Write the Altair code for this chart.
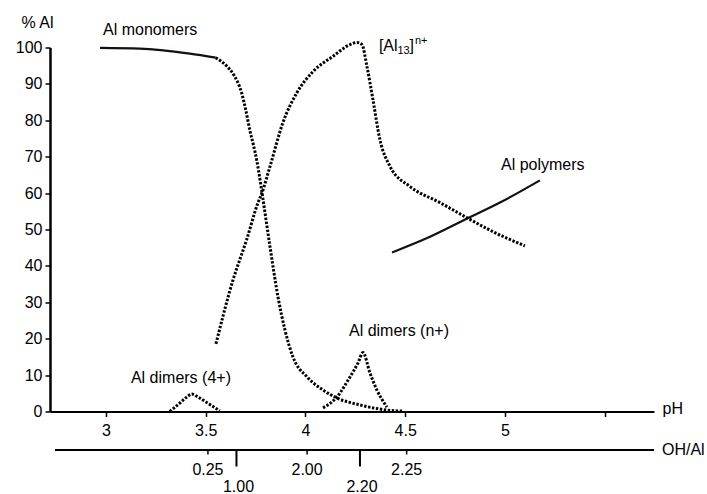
import altair as alt
import pandas as pd

# --- species distribution curves (pH, % Al) ---
mono_solid_ph = [2.97, 3.17, 3.42, 3.55]
mono_solid_pct = [99.9, 99.7, 98.3, 97.2]

mono_ph = [3.55, 3.605, 3.64, 3.68, 3.70, 3.722, 3.74, 3.757, 3.782, 3.822, 3.862, 3.897,
           3.937, 4.008, 4.088, 4.158, 4.273, 4.408, 4.489]
mono_pct = [97.2, 94.9, 92.5, 87.5, 83.0, 77.0, 73.0, 68.6, 60.1, 45.3, 31.5, 22.4,
            15.0, 9.5, 5.9, 3.7, 1.8, 0.4, 0.1]

al13_ph = [3.551, 3.637, 3.705, 3.762, 3.782, 3.822, 3.887, 3.957, 4.038, 4.138,
           4.223, 4.258, 4.283, 4.308, 4.338, 4.373, 4.424, 4.524, 4.674, 4.81,
           4.94, 5.10]
al13_pct = [18.6, 36.2, 47.2, 57.4, 60.1, 67.3, 79.4, 87.6, 93.4, 97.6,
            100.8, 101.4, 100.8, 94.8, 85.7, 74.7, 67.3, 61.8, 57.4, 53.2,
            49.4, 45.5]

poly_ph = [4.434, 4.624, 4.81, 4.975, 5.175]
poly_pct = [43.7, 48.0, 53.0, 57.4, 63.5]

dim4_ph = [3.32, 3.37, 3.406, 3.43, 3.46, 3.51, 3.57]
dim4_pct = [0.0, 2.3, 4.0, 4.8, 4.0, 2.3, 0.2]

dimn_ph = [4.088, 4.158, 4.223, 4.263, 4.288, 4.323, 4.358, 4.408]
dimn_pct = [1.0, 4.0, 9.5, 13.3, 16.2, 10.6, 5.9, 1.2]

# --- axis ticks ---
ph_ticks = [3, 3.5, 4, 4.5, 5, 5.5]
pct_ticks = [0, 10, 20, 30, 40, 50, 60, 70, 80, 90, 100]

# OH/Al ratio scale, placed at the pH where each ratio is reached
ohal_labels = ["0.25", "1.00", "2.00", "2.20", "2.25"]
ohal_ph = [3.511, 3.654, 4.008, 4.273, 4.507]
ohal_major = [False, True, False, True, False]

# --- curve labels ---
label_text = ["Al monomers", "Al polymers", "Al dimers (n+)", "Al dimers (4+)"]
label_ph = [2.985, 4.98, 4.218, 3.125]
label_pct = [104.8, 67.7, 22.0, 9.1]
al13_label_ph = [4.368]
al13_label_pct = [100.3]

FONT = "Liberation Sans"
W, H = 604, 364
PH_DOMAIN = [2.7193, 5.7469]


def series(name, style, xs, ys):
    return pd.DataFrame({"series": name, "style": style, "pH": xs, "pct": ys})


curves = pd.concat([
    series("monomers_a", "solid", mono_solid_ph, mono_solid_pct),
    series("monomers_b", "dotted", mono_ph, mono_pct),
    series("al13", "dotted", al13_ph, al13_pct),
    series("polymers", "solid", poly_ph, poly_pct),
    series("dimers4", "dotted", dim4_ph, dim4_pct),
    series("dimersn", "dotted", dimn_ph, dimn_pct),
], ignore_index=True)

x_scale = alt.Scale(domain=PH_DOMAIN, nice=False, zero=False)
y_scale = alt.Scale(domain=[0, 100], nice=False)

x_axis = alt.Axis(values=ph_ticks, title="pH", format="~g",
                  labelExpr="datum.value == 5.5 ? '' : datum.label",
                  tickSize=5, tickWidth=1.5, domainWidth=2, domainColor="black", tickColor="black",
                  labelFont=FONT, labelFontSize=16, labelColor="black", labelPadding=6,
                  labelFlush=False, labelOverlap=False, grid=False,
                  titleFont=FONT, titleFontSize=16, titleFontWeight="normal", titleColor="black",
                  titleAngle=0, titleAlign="left", titleBaseline="middle",
                  titleX=W + 8, titleY=-3)
y_axis = alt.Axis(values=pct_ticks, title="% Al",
                  tickSize=5, tickWidth=1.5, domainWidth=2.5, domainColor="black", tickColor="black",
                  labelFont=FONT, labelFontSize=16, labelColor="black", labelPadding=3,
                  labelFlush=False, labelOverlap=False, grid=False,
                  titleFont=FONT, titleFontSize=16, titleFontWeight="normal", titleColor="black",
                  titleAngle=0, titleAlign="left", titleBaseline="middle",
                  titleX=-29, titleY=-25)

# every layer that uses the scales carries the same axis definition
X_ENC = dict(scale=x_scale, axis=x_axis)
Y_ENC = dict(scale=y_scale, axis=y_axis)

base = alt.Chart(curves).encode(
    x=alt.X("pH:Q", **X_ENC),
    y=alt.Y("pct:Q", **Y_ENC),
    detail="series:N",
)

dotted = base.transform_filter(alt.datum.style == "dotted").mark_line(
    color="#000000", strokeWidth=3, strokeDash=[2.4, 1.6], strokeCap="butt",
    interpolate="monotone")
solid = base.transform_filter(alt.datum.style == "solid").mark_line(
    color="#111111", strokeWidth=2.2, interpolate="monotone")

labels_df = pd.DataFrame({"text": label_text, "pH": label_ph, "pct": label_pct})
labels = alt.Chart(labels_df).mark_text(
    align="left", baseline="middle", font=FONT, fontSize=16, color="black"
).encode(x=alt.X("pH:Q", **X_ENC), y=alt.Y("pct:Q", **Y_ENC), text="text:N")

al13_df = pd.DataFrame({"pH": al13_label_ph, "pct": al13_label_pct})
al13_base = alt.Chart(al13_df).encode(x=alt.X("pH:Q", **X_ENC), y=alt.Y("pct:Q", **Y_ENC))
al13_parts = [
    al13_base.mark_text(align="left", baseline="middle", font=FONT, fontSize=16, color="black",
                        text="[Al"),
    al13_base.mark_text(align="left", baseline="middle", font=FONT, fontSize=11, color="black",
                        text="13", dx=18.5, dy=5),
    al13_base.mark_text(align="left", baseline="middle", font=FONT, fontSize=16, color="black",
                        text="]", dx=30.5),
    al13_base.mark_text(align="left", baseline="middle", font=FONT, fontSize=11, color="black",
                        text="n+", dx=36, dy=-5),
]

# secondary OH/Al scale drawn below the pH axis
ohal_df = pd.DataFrame({"label": ohal_labels, "pH": ohal_ph, "major": ohal_major})
single = pd.DataFrame({"name": ["OH/Al"]})

ohal_line = alt.Chart(single).mark_rule(color="black", strokeWidth=2.2).encode(
    x=alt.value(5), x2=alt.value(W), y=alt.value(H + 38.5))
ohal_minor = alt.Chart(ohal_df).transform_filter(~alt.datum.major).mark_rule(
    color="black", strokeWidth=1.5).encode(
    x=alt.X("pH:Q", **X_ENC), y=alt.value(H + 38.5), y2=alt.value(H + 43))
ohal_major_ticks = alt.Chart(ohal_df).transform_filter(alt.datum.major).mark_rule(
    color="black", strokeWidth=2).encode(
    x=alt.X("pH:Q", **X_ENC), y=alt.value(H + 38.5), y2=alt.value(H + 55))
ohal_minor_text = alt.Chart(ohal_df).transform_filter(~alt.datum.major).mark_text(
    align="center", baseline="middle", font=FONT, fontSize=16, color="black").encode(
    x=alt.X("pH:Q", **X_ENC), y=alt.value(H + 58.5), text="label:N")
ohal_major_text = alt.Chart(ohal_df).transform_filter(alt.datum.major).mark_text(
    align="center", baseline="middle", font=FONT, fontSize=16, color="black", dx=2).encode(
    x=alt.X("pH:Q", **X_ENC), y=alt.value(H + 75.5), text="label:N")
ohal_title = alt.Chart(single).mark_text(
    align="left", baseline="middle", font=FONT, fontSize=16, color="black").encode(
    x=alt.value(W + 8), y=alt.value(H + 38.5), text="name:N")

chart = alt.layer(
    solid, dotted, labels, *al13_parts,
    ohal_line, ohal_minor, ohal_major_ticks, ohal_minor_text, ohal_major_text, ohal_title,
).properties(
    width=W, height=H,
    autosize=alt.AutoSizeParams(type="none"),
    padding={"left": 50, "top": 47.5, "right": 53, "bottom": 82.5},
    background="white",
).configure(font=FONT, view=alt.ViewConfig(stroke=None))

chart.save("out.html", embed_options={"renderer": "svg", "actions": False})
